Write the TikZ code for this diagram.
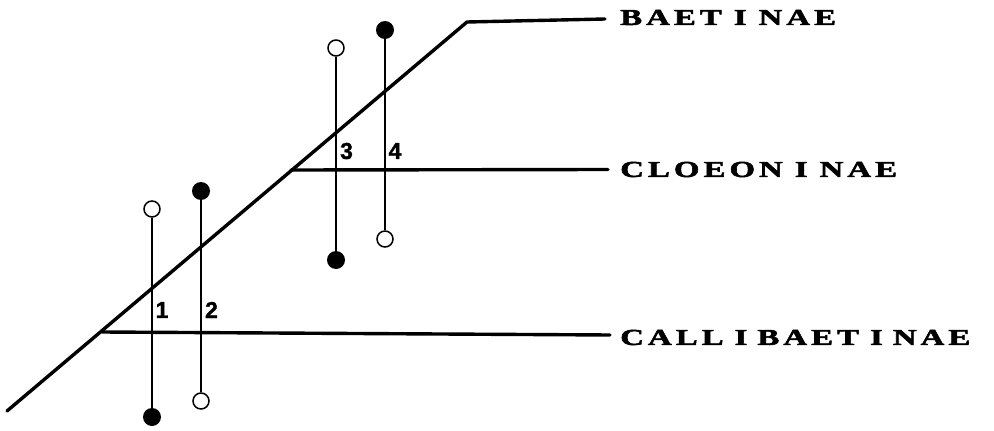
\documentclass[tikz,border=0pt]{standalone}
\usepackage{fontspec}
\setmainfont{Liberation Serif}
\newfontfamily\taxfont[FakeBold=2.5,FakeStretch=1.45]{Liberation Serif}
\newfontfamily\numfont[FakeBold=1.5]{Liberation Sans}
\newcommand\trk{\hspace{4pt}}
\newcommand\sI{\hspace{12pt}I\hspace{12pt}}
\begin{document}
\begin{tikzpicture}[x=1pt,y=-1pt,
  trunk/.style={line width=3.4pt, line cap=round, line join=round},
  bar/.style={line width=2.2pt},
  opendot/.style={circle, draw, line width=1.5pt, fill=white, minimum size=16pt, inner sep=0},
  filldot/.style={circle, fill=black, minimum size=18pt, inner sep=0},
  taxon/.style={anchor=west, inner sep=0, font=\taxfont\bfseries\fontsize{22.7}{23}\selectfont},
  num/.style={font=\numfont\bfseries\fontsize{23}{23}\selectfont, inner sep=0}]
\useasboundingbox (0,0) rectangle (994,431);
\coordinate (root) at (7,411);
\coordinate (top) at (467,22);
\coordinate (cal) at (102,332);
\coordinate (clo) at (291,170);
\node[taxon] (baet) at (620,17.5) {B\trk A\trk E\trk T\sI N\trk A\trk E};
\node[taxon] (cloe) at (620,169.5) {C\trk L\trk O\trk E\trk O\trk N\sI N\trk A\trk E};
\node[taxon] (call) at (620,337.5) {C\trk A\trk L\trk L\hspace{11pt}I\hspace{10pt}B\trk A\trk E\trk T\hspace{11pt}I\hspace{10pt}N\trk A\trk E};
\draw[trunk] (root) -- (top) -- ([xshift=-15pt,yshift=-1.5pt]baet.west);
\draw[trunk] (clo) -- ([xshift=-12pt]cloe.west);
\draw[trunk] (cal) -- ([xshift=-10pt,yshift=2.5pt]call.west);
% character bars
\node[opendot] (c1t) at (152,209) {};
\node[filldot] (c1b) at (152,417) {};
\node[filldot] (c2t) at (201,191) {};
\node[opendot] (c2b) at (201,401) {};
\node[opendot] (c3t) at (336,48) {};
\node[filldot] (c3b) at (336,260) {};
\node[filldot] (c4t) at (385,30) {};
\node[opendot] (c4b) at (385,239) {};
\draw[bar] (c1t.south) -- (c1b.north);
\draw[bar] (c2t.south) -- (c2b.north);
\draw[bar] (c3t.south) -- (c3b.north);
\draw[bar] (c4t.south) -- (c4b.north);
\node[num] (n1) at (162,310) {1};
\node[num] (n2) at (211.5,310) {2};
\node[num] (n3) at (346.5,151) {3};
\node[num] (n4) at (395,151) {4};
\end{tikzpicture}
\end{document}
